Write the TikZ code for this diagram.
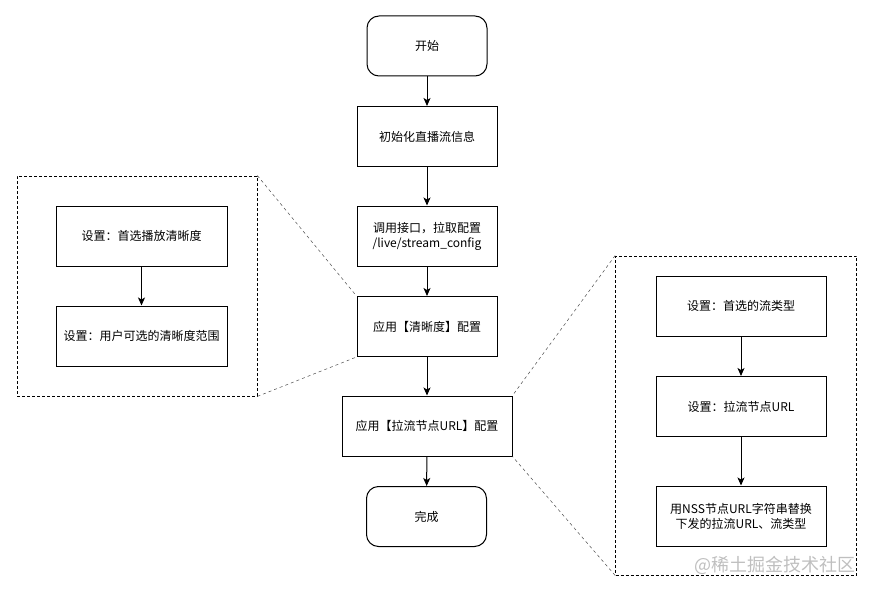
\documentclass[tikz,border=0pt]{standalone}
\usepackage{fontspec}
\setmainfont{Noto Sans CJK SC}
\usetikzlibrary{arrows.meta}
\tikzset{
  box/.style={draw, line width=1pt, align=center, minimum height=60pt,
    inner sep=2pt, font=\fontsize{12}{15}\selectfont},
  term/.style={box, rounded corners=12pt, minimum width=120pt},
  group/.style={draw, line width=0.8pt, dash pattern=on 3pt off 2pt},
  zoomline/.style={line width=0.5pt, black!70, dash pattern=on 3pt off 3pt},
  flow/.style={line width=1pt, -{Stealth[length=8pt,width=7pt,inset=2pt]}},
}

\begin{document}
\begin{tikzpicture}[x=1pt, y=-1pt, auto]
    \useasboundingbox (0,0) rectangle (873,594);
    % main flow
    \node[term] (start) at (427, 46) {开始};
    \node[box, minimum width=140pt] (init) at (427, 136.5) {初始化直播流信息};
    \node[box, minimum width=140pt] (fetch) at (427, 236) {调用接口，拉取配置\\/live/stream\_config};
    \node[box, minimum width=140pt] (clarity) at (427, 326.5) {应用【清晰度】配置};
    \node[box, minimum width=170pt] (pull) at (427, 426) {应用【拉流节点URL】配置};
    \node[term] (finish) at (426.5, 516.5) {完成};
    \draw[flow] (start) to node {} (init);
    \draw[flow] (init) to node {} (fetch);
    \draw[flow] (fetch) to node {} (clarity);
    \draw[flow] (clarity) to node {} (pull);
    \draw[flow] (pull) to node {} (finish);
    % clarity details
    \node[group, minimum width=240pt, minimum height=220pt] (lbox) at (137, 286) {};
    \node[box, minimum width=171pt] (c1) at (141.5, 236) {设置：首选播放清晰度};
    \node[box, minimum width=171pt] (c2) at (141.5, 336) {设置：用户可选的清晰度范围};
    \draw[flow] (c1) to node {} (c2);
    \draw[zoomline] (lbox.north east) to (clarity.north west);
    \draw[zoomline] (lbox.south east) to (clarity.south west);
    % pull url details
    \node[group, minimum width=241pt, minimum height=319pt] (rbox) at (736, 415.5) {};
    \node[box, minimum width=170pt] (s1) at (741, 306) {设置：首选的流类型};
    \node[box, minimum width=170pt] (s2) at (741, 406.5) {设置：拉流节点URL};
    \node[box, minimum width=170pt] (s3) at (741, 516) {用NSS节点URL字符串替换\\下发的拉流URL、流类型};
    \draw[flow] (s1) to node {} (s2);
    \draw[flow] (s2) to node {} (s3);
    \draw[zoomline] (rbox.north west) to (pull.north east);
    \draw[zoomline] (rbox.south west) to (pull.south east);
    \node[anchor=east, text=black!25, font=\fontsize{18}{20}\selectfont, inner sep=0pt] (mark) at (856, 565) {@稀土掘金技术社区};
\end{tikzpicture}
\end{document}
